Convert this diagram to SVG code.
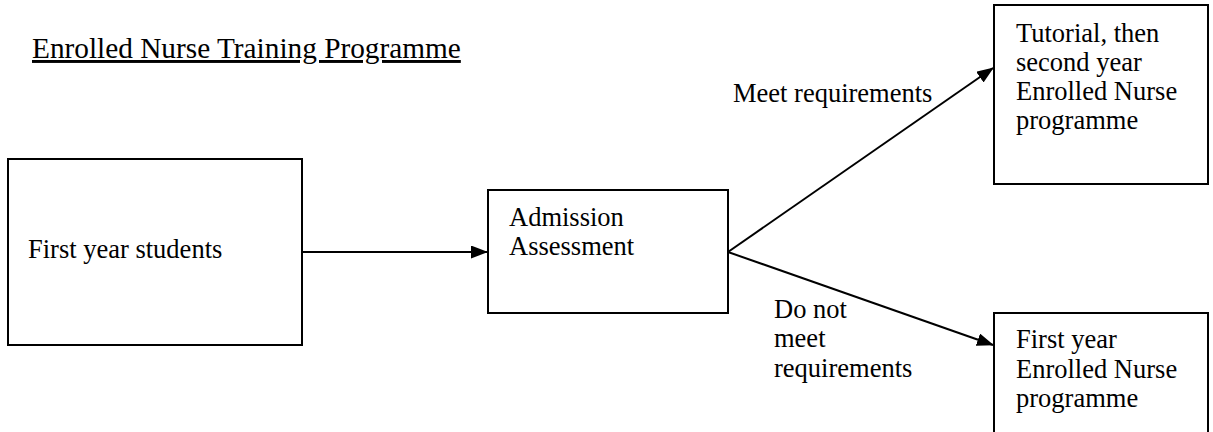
<svg xmlns="http://www.w3.org/2000/svg" width="1213" height="432" viewBox="0 0 1213 432">
<style>
.box{fill:#fff;stroke:#000;stroke-width:2}
.t{font-family:"Liberation Serif","Times New Roman",serif;font-size:26.5px;fill:#000}
.title{font-size:29.3px}
.c{stroke:#000;stroke-width:2;fill:none}
</style>
<defs>
<marker id="ah" markerWidth="17" markerHeight="13" refX="16" refY="6.5" orient="auto" markerUnits="userSpaceOnUse">
<path d="M0,0 L17,6.5 L0,13 Z" fill="#000"/>
</marker>
</defs>
<rect width="1213" height="432" fill="#fff"/>
<text class="t title" x="32" y="58" text-decoration="underline">Enrolled Nurse Training Programme</text>
<g id="connectors">
<line class="c" x1="302" y1="252" x2="487" y2="252" marker-end="url(#ah)"/>
<line class="c" x1="728" y1="252" x2="993" y2="68" marker-end="url(#ah)"/>
<line class="c" x1="728" y1="252" x2="993" y2="345" marker-end="url(#ah)"/>
<text class="t" x="733" y="102">Meet requirements</text>
<text class="t" x="774" y="318">Do not</text>
<text class="t" x="774" y="347">meet</text>
<text class="t" x="774" y="377">requirements</text>
</g>
<g id="first-year-students">
<rect class="box" x="8" y="159" width="294" height="186"/>
<text class="t" x="28" y="258">First year students</text>
</g>
<g id="admission-assessment">
<rect class="box" x="488" y="190" width="240" height="123"/>
<text class="t" x="509" y="226">Admission</text>
<text class="t" x="509" y="255">Assessment</text>
</g>
<g id="tutorial-second-year">
<rect class="box" x="994" y="5" width="214" height="179"/>
<text class="t" x="1016" y="42">Tutorial, then</text>
<text class="t" x="1016" y="71">second year</text>
<text class="t" x="1016" y="100">Enrolled Nurse</text>
<text class="t" x="1016" y="129">programme</text>
</g>
<g id="first-year-programme">
<rect class="box" x="994" y="313" width="214" height="125"/>
<text class="t" x="1016" y="348">First year</text>
<text class="t" x="1016" y="378">Enrolled Nurse</text>
<text class="t" x="1016" y="407">programme</text>
</g>
</svg>
